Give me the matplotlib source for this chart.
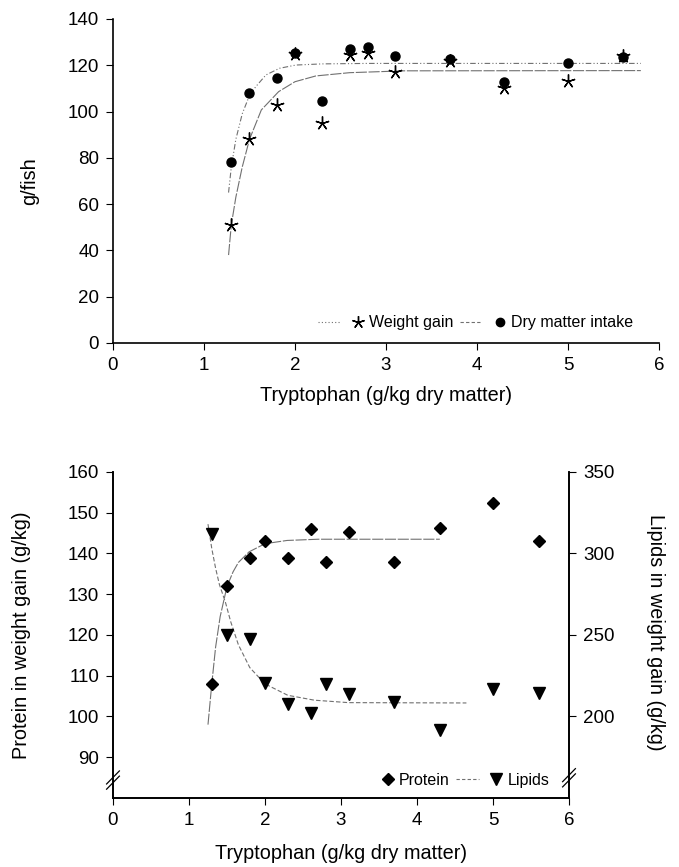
import matplotlib
matplotlib.use("Agg")
import matplotlib.pyplot as plt
from matplotlib.lines import Line2D

plt.rcParams['font.family'] = ['Liberation Sans', 'DejaVu Sans']

# --- top panel: growth data (g/fish) ---
trp = [1.3, 1.5, 1.8, 2.0, 2.3, 2.6, 2.8, 3.1, 3.7, 4.3, 5.0, 5.6]
weight_gain = [51, 88, 103, 125, 95, 124.5, 125.5, 117, 122, 110, 113, 124]
dm_intake = [78, 108, 114.7, 125.2, 104.7, 126.9, 128.1, 123.9, 122.6, 112.9, 120.9, 123.5]

# fitted curves
wg_fit_x = [1.27, 1.30, 1.35, 1.42, 1.50, 1.63, 1.82, 2.00, 2.23, 2.60, 3.20, 5.80]
wg_fit_y = [38, 51, 63, 76, 88, 100.7, 108.6, 112.9, 115.4, 116.8, 117.6, 117.7]
dm_fit_x = [1.27, 1.30, 1.35, 1.42, 1.50, 1.57, 1.68, 1.83, 2.01, 2.30, 2.80, 5.80]
dm_fit_y = [65, 76, 88, 99, 107, 110.8, 115.8, 118.7, 120.1, 120.6, 120.8, 120.8]

# --- bottom panel: body composition of weight gain (g/kg) ---
protein = [108, 132, 139, 143, 139, 146, 138, 145.3, 138, 146.3, 152.4, 143]
lipids = [312, 250, 247.4, 220.7, 207.7, 202.3, 219.8, 213.8, 208.7, 191.7, 216.7, 214.6]

prot_fit_x = [1.25, 1.28, 1.30, 1.35, 1.41, 1.50, 1.58, 1.65, 1.79, 2.00, 2.29, 2.70, 4.30]
prot_fit_y = [98, 104, 108, 117, 124.5, 131.9, 135.5, 137.8, 140.4, 142.4, 143.2, 143.5, 143.5]
lip_fit_x = [1.25, 1.30, 1.35, 1.40, 1.48, 1.55, 1.65, 1.80, 2.00, 2.30, 2.65, 3.10, 4.65]
lip_fit_y = [318, 303, 291, 281, 270, 258, 244, 230, 220, 213, 210, 208.5, 208.3]

fig = plt.figure(figsize=(6.79, 8.67), dpi=100)

tick_fs = 13.5
label_fs = 14.3
leg_fs = 11.5
curve_col = '#707070'
wg_ls = (0, (10, 1.5))
dm_ls = (0, (5, 2, 1, 2, 1, 2))
prot_ls = (0, (10, 1.5))
lip_ls = (0, (4, 2))

# ---------------- top panel ----------------
ax1 = fig.add_axes([0.1664, 0.6044, 0.8042, 0.3737])
ax1.plot(wg_fit_x, wg_fit_y, color=curve_col, lw=0.8, linestyle=wg_ls)
ax1.plot(dm_fit_x, dm_fit_y, color=curve_col, lw=0.8, linestyle=dm_ls)
ax1.plot(trp, weight_gain, linestyle='none', marker=(5, 2, 0), ms=10, mew=1.0,
         color='black')
ax1.plot(trp, dm_intake, linestyle='none', marker='o', ms=6.5, color='black')

ax1.set_xlim(0, 6)
ax1.set_ylim(0, 140)
ax1.set_xticks(range(0, 7))
ax1.set_yticks(range(0, 141, 20))
for s in ['top', 'right']:
    ax1.spines[s].set_visible(False)
for s in ['left', 'bottom']:
    ax1.spines[s].set_linewidth(1.2)
ax1.tick_params(direction='out', length=5, width=0.8, labelsize=tick_fs, pad=5)

h1 = [Line2D([], [], color=curve_col, lw=0.8, linestyle=(0, (1, 2))),
      Line2D([], [], linestyle='none', marker=(5, 2, 0), ms=9, mew=1.0, color='black'),
      Line2D([], [], color=curve_col, lw=0.8, linestyle=(0, (3, 2))),
      Line2D([], [], linestyle='none', marker='o', ms=6, color='black')]
ax1.legend(h1, ['', 'Weight gain', '', 'Dry matter intake'], ncol=4, frameon=False,
           loc='center right', bbox_to_anchor=(0.967, 0.062), fontsize=leg_fs,
           handlelength=1.4, handletextpad=0.0, columnspacing=0.4, borderpad=0)

fig.text(0.0442, 0.7912, 'g/fish', rotation=90, ha='center', va='center',
         fontsize=label_fs)
fig.text(0.5685, 0.5444, 'Tryptophan (g/kg dry matter)', ha='center', va='center',
         fontsize=label_fs)

# ---------------- bottom panel ----------------
ax2 = fig.add_axes([0.1664, 0.0796, 0.6716, 0.376])
ax3 = ax2.twinx()

ax2.plot(prot_fit_x, prot_fit_y, color=curve_col, lw=0.8, linestyle=prot_ls)
ax2.plot(trp, protein, linestyle='none', marker='D', ms=6, color='black')
ax3.plot(lip_fit_x, lip_fit_y, color=curve_col, lw=0.8, linestyle=lip_ls)
ax3.plot(trp, lipids, linestyle='none', marker='v', ms=8.5, color='black')

ax2.set_xlim(0, 6)
ax2.set_ylim(80, 160)
ax3.set_ylim(150, 350)
ax2.set_xticks(range(0, 7))
ax2.set_yticks(range(90, 161, 10))
ax3.set_yticks(range(200, 351, 50))
for a in (ax2, ax3):
    a.spines['top'].set_visible(False)
    for s in ['left', 'bottom', 'right']:
        a.spines[s].set_linewidth(1.2)
    a.tick_params(direction='out', length=5, width=0.8, labelsize=tick_fs, pad=5)

# axis break marks
for a, xb, yb in ((ax2, 0.0, 0.055), (ax3, 1.0, 0.062)):
    for dy in (-0.008, 0.008):
        a.plot([xb - 0.014, xb + 0.014], [yb + dy - 0.02, yb + dy + 0.02],
               color='black', lw=0.9, transform=a.transAxes, clip_on=False)

h2 = [Line2D([], [], linestyle='none', marker='D', ms=6, color='black'),
      Line2D([], [], color=curve_col, lw=0.8, linestyle=(0, (3, 2))),
      Line2D([], [], linestyle='none', marker='v', ms=8, color='black')]
ax3.legend(h2, ['Protein', '', 'Lipids'], ncol=3, frameon=False,
           loc='center right', bbox_to_anchor=(0.974, 0.055), fontsize=leg_fs,
           handlelength=1.4, handletextpad=0.0, columnspacing=0.4, borderpad=0)

fig.text(0.0324, 0.2676, 'Protein in weight gain (g/kg)', rotation=90,
         ha='center', va='center', fontsize=label_fs)
fig.text(0.965, 0.271, 'Lipids in weight gain (g/kg)', rotation=270,
         ha='center', va='center', fontsize=label_fs)
fig.text(0.5022, 0.0161, 'Tryptophan (g/kg dry matter)', ha='center', va='center',
         fontsize=label_fs)

fig.savefig('out.png', dpi=100)
